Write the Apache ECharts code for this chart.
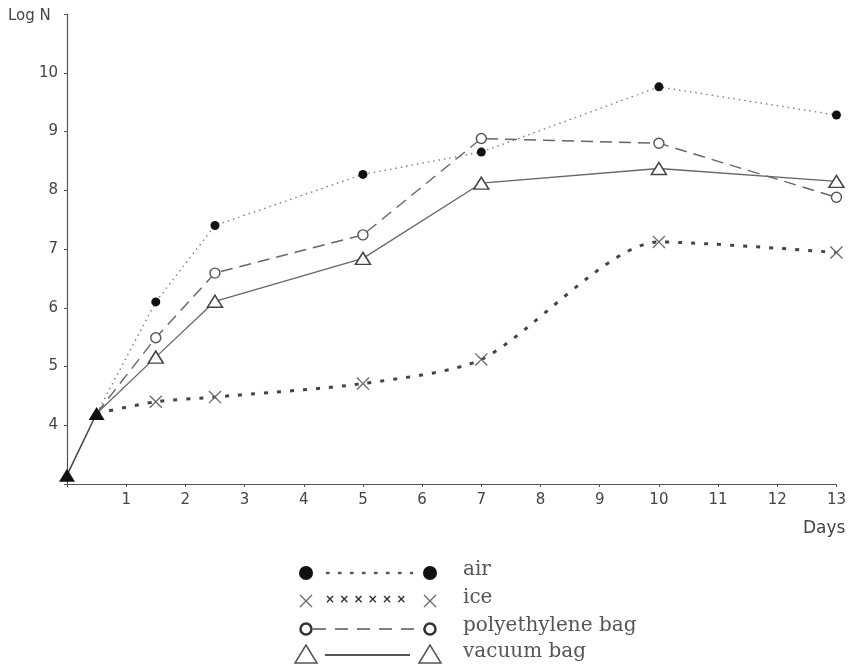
<!DOCTYPE html>
<html>
<head>
<meta charset="utf-8">
<script src="https://cdn.jsdelivr.net/npm/echarts@6/dist/echarts.min.js"></script>
<style>html,body{margin:0;padding:0;background:#fff;}#c{width:849px;height:669px;}</style>
</head>
<body>
<div id="c"></div>
<script>
// Data (days, log N)
const initialDays = [0, 0.5];
const initialLogN = [3.15, 4.2];
const days = [0.5, 1.5, 2.5, 5, 7, 10, 13];
const airLogN = [4.2, 6.1, 7.4, 8.27, 8.65, 9.76, 9.28];
const iceLogN = [4.2, 4.4, 4.48, 4.71, 5.12, 7.12, 6.94];
const polyLogN = [4.2, 5.49, 6.59, 7.24, 8.88, 8.8, 7.88];
const vacuumLogN = [4.2, 5.16, 6.11, 6.84, 8.12, 8.37, 8.15];
const legendNames = ['air', 'ice', 'polyethylene bag', 'vacuum bag'];
const xTickLabels = ['', '1', '2', '3', '4', '5', '6', '7', '8', '9', '10', '11', '12', '13'];
const yTickLabels = { 4: '4', 5: '5', 6: '6', 7: '7', 8: '8', 9: '9', 10: '10' };

// first point is the shared start, drawn by the "initial" series
function pairs(xs, ys) {
  return xs.map((x, i) => i === 0 ? { value: [x, ys[i]], symbol: 'none' } : [x, ys[i]]);
}

const crossPath = 'path://M0,0.7 L0.7,0 L5,4.3 L9.3,0 L10,0.7 L5.7,5 L10,9.3 L9.3,10 L5,5.7 L0.7,10 L0,9.3 L4.3,5 Z';
const chart = echarts.init(document.getElementById('c'));
const axisFont = { fontFamily: 'DejaVu Sans', fontSize: 15, color: '#444' };
const legFont = { fontFamily: 'DejaVu Serif', fontSize: 20, fill: '#555' };

function legendRow(y, sym, line, label) {
  return [].concat(sym(306, y), line, sym(430, y), [{
    type: 'text', left: 463, top: y - 13, style: Object.assign({ text: label }, legFont)
  }]);
}
const filledCircle = (x, y) => [{ type: 'circle', shape: { cx: x, cy: y, r: 7 }, style: { fill: '#111' } }];
const openCircle = (x, y) => [{ type: 'circle', shape: { cx: x, cy: y, r: 5.5 }, style: { fill: '#fff', stroke: '#333', lineWidth: 2.5 } }];
const openTri = (x, y) => [{ type: 'polygon', shape: { points: [[x, y - 10], [x - 11, y + 8], [x + 11, y + 8]] }, style: { fill: '#fff', stroke: '#555', lineWidth: 1.5 } }];
const bigCross = (x, y) => [{ type: 'polyline', shape: { points: [[x - 6, y - 6], [x + 6, y + 6]] }, style: { stroke: '#666', lineWidth: 1.2 } },
  { type: 'polyline', shape: { points: [[x - 6, y + 6], [x + 6, y - 6]] }, style: { stroke: '#666', lineWidth: 1.2 } }];

const graphics = [].concat(
  legendRow(573, filledCircle, [{ type: 'line', shape: { x1: 327, y1: 573, x2: 412, y2: 573 }, style: { stroke: '#555', lineWidth: 2.5, lineDash: [1.5, 10.5], lineCap: 'round' } }], legendNames[0]),
  legendRow(601, bigCross, [{ type: 'text', left: 325, top: 594, style: { text: '× × × × × ×', fontFamily: 'DejaVu Sans', fontWeight: 'bold', fontSize: 12, fill: '#333' } }], legendNames[1]),
  legendRow(629, openCircle, [{ type: 'line', shape: { x1: 313, y1: 629, x2: 424, y2: 629 }, style: { stroke: '#555', lineWidth: 1.5, lineDash: [13, 9] } }], legendNames[2]),
  legendRow(655, openTri, [{ type: 'line', shape: { x1: 325, y1: 655, x2: 410, y2: 655 }, style: { stroke: '#555', lineWidth: 1.8 } }], legendNames[3]),
  [
    { type: 'text', left: 8, top: 9, style: { text: 'Log N', fontFamily: 'DejaVu Sans', fontSize: 15, fill: '#444' } },
    { type: 'text', left: 803, top: 520, style: { text: 'Days', fontFamily: 'DejaVu Sans', fontSize: 17, fill: '#444' } }
  ]
);

chart.setOption({
  animation: false,
  backgroundColor: '#fff',
  grid: { left: 67, right: 11, top: 14, bottom: 185 },
  xAxis: {
    type: 'value', min: 0, max: 13, interval: 1,
    axisLine: { lineStyle: { color: '#555', width: 1.2 } },
    axisTick: { show: true, length: 3, lineStyle: { color: '#555' } },
    axisLabel: Object.assign({ margin: 9, formatter: v => xTickLabels[v] || '' }, axisFont),
    splitLine: { show: false }
  },
  yAxis: {
    type: 'value', min: 3, max: 11, interval: 1,
    axisLine: { show: true, lineStyle: { color: '#555', width: 1.2 } },
    axisTick: { show: true, length: 3, lineStyle: { color: '#555' } },
    axisLabel: Object.assign({ margin: 9, formatter: v => yTickLabels[v] || '' }, axisFont),
    splitLine: { show: false }
  },
  graphic: graphics,
  series: [
    {
      name: legendNames[0], type: 'line', data: pairs(days, airLogN),
      symbol: 'circle', symbolSize: 9, showSymbol: true,
      lineStyle: { color: '#777', width: 1.3, type: [1.5, 4] },
      itemStyle: { color: '#111' }
    },
    {
      name: legendNames[1], type: 'line', data: pairs(days, iceLogN), smooth: 0.25,
      symbol: crossPath, symbolSize: 13,
      lineStyle: { color: '#444', width: 3, type: [4, 9] },
      itemStyle: { color: '#666' }
    },
    {
      name: legendNames[2], type: 'line', data: pairs(days, polyLogN),
      symbol: 'circle', symbolSize: 10,
      lineStyle: { color: '#666', width: 1.4, type: [12, 7] },
      itemStyle: { color: '#fff', borderColor: '#555', borderWidth: 1.4 }
    },
    {
      name: legendNames[3], type: 'line', data: pairs(days, vacuumLogN),
      symbol: 'triangle', symbolSize: [15, 12],
      lineStyle: { color: '#666', width: 1.3 },
      itemStyle: { color: '#fff', borderColor: '#444', borderWidth: 1.5 }
    },
    {
      name: 'initial', type: 'line', data: [[initialDays[0], initialLogN[0]], [initialDays[1], initialLogN[1]]], z: 5,
      symbol: 'triangle', symbolSize: [16, 13],
      lineStyle: { color: '#444', width: 1.5 },
      itemStyle: { color: '#111' }
    }
  ]
});
</script>
</body>
</html>
